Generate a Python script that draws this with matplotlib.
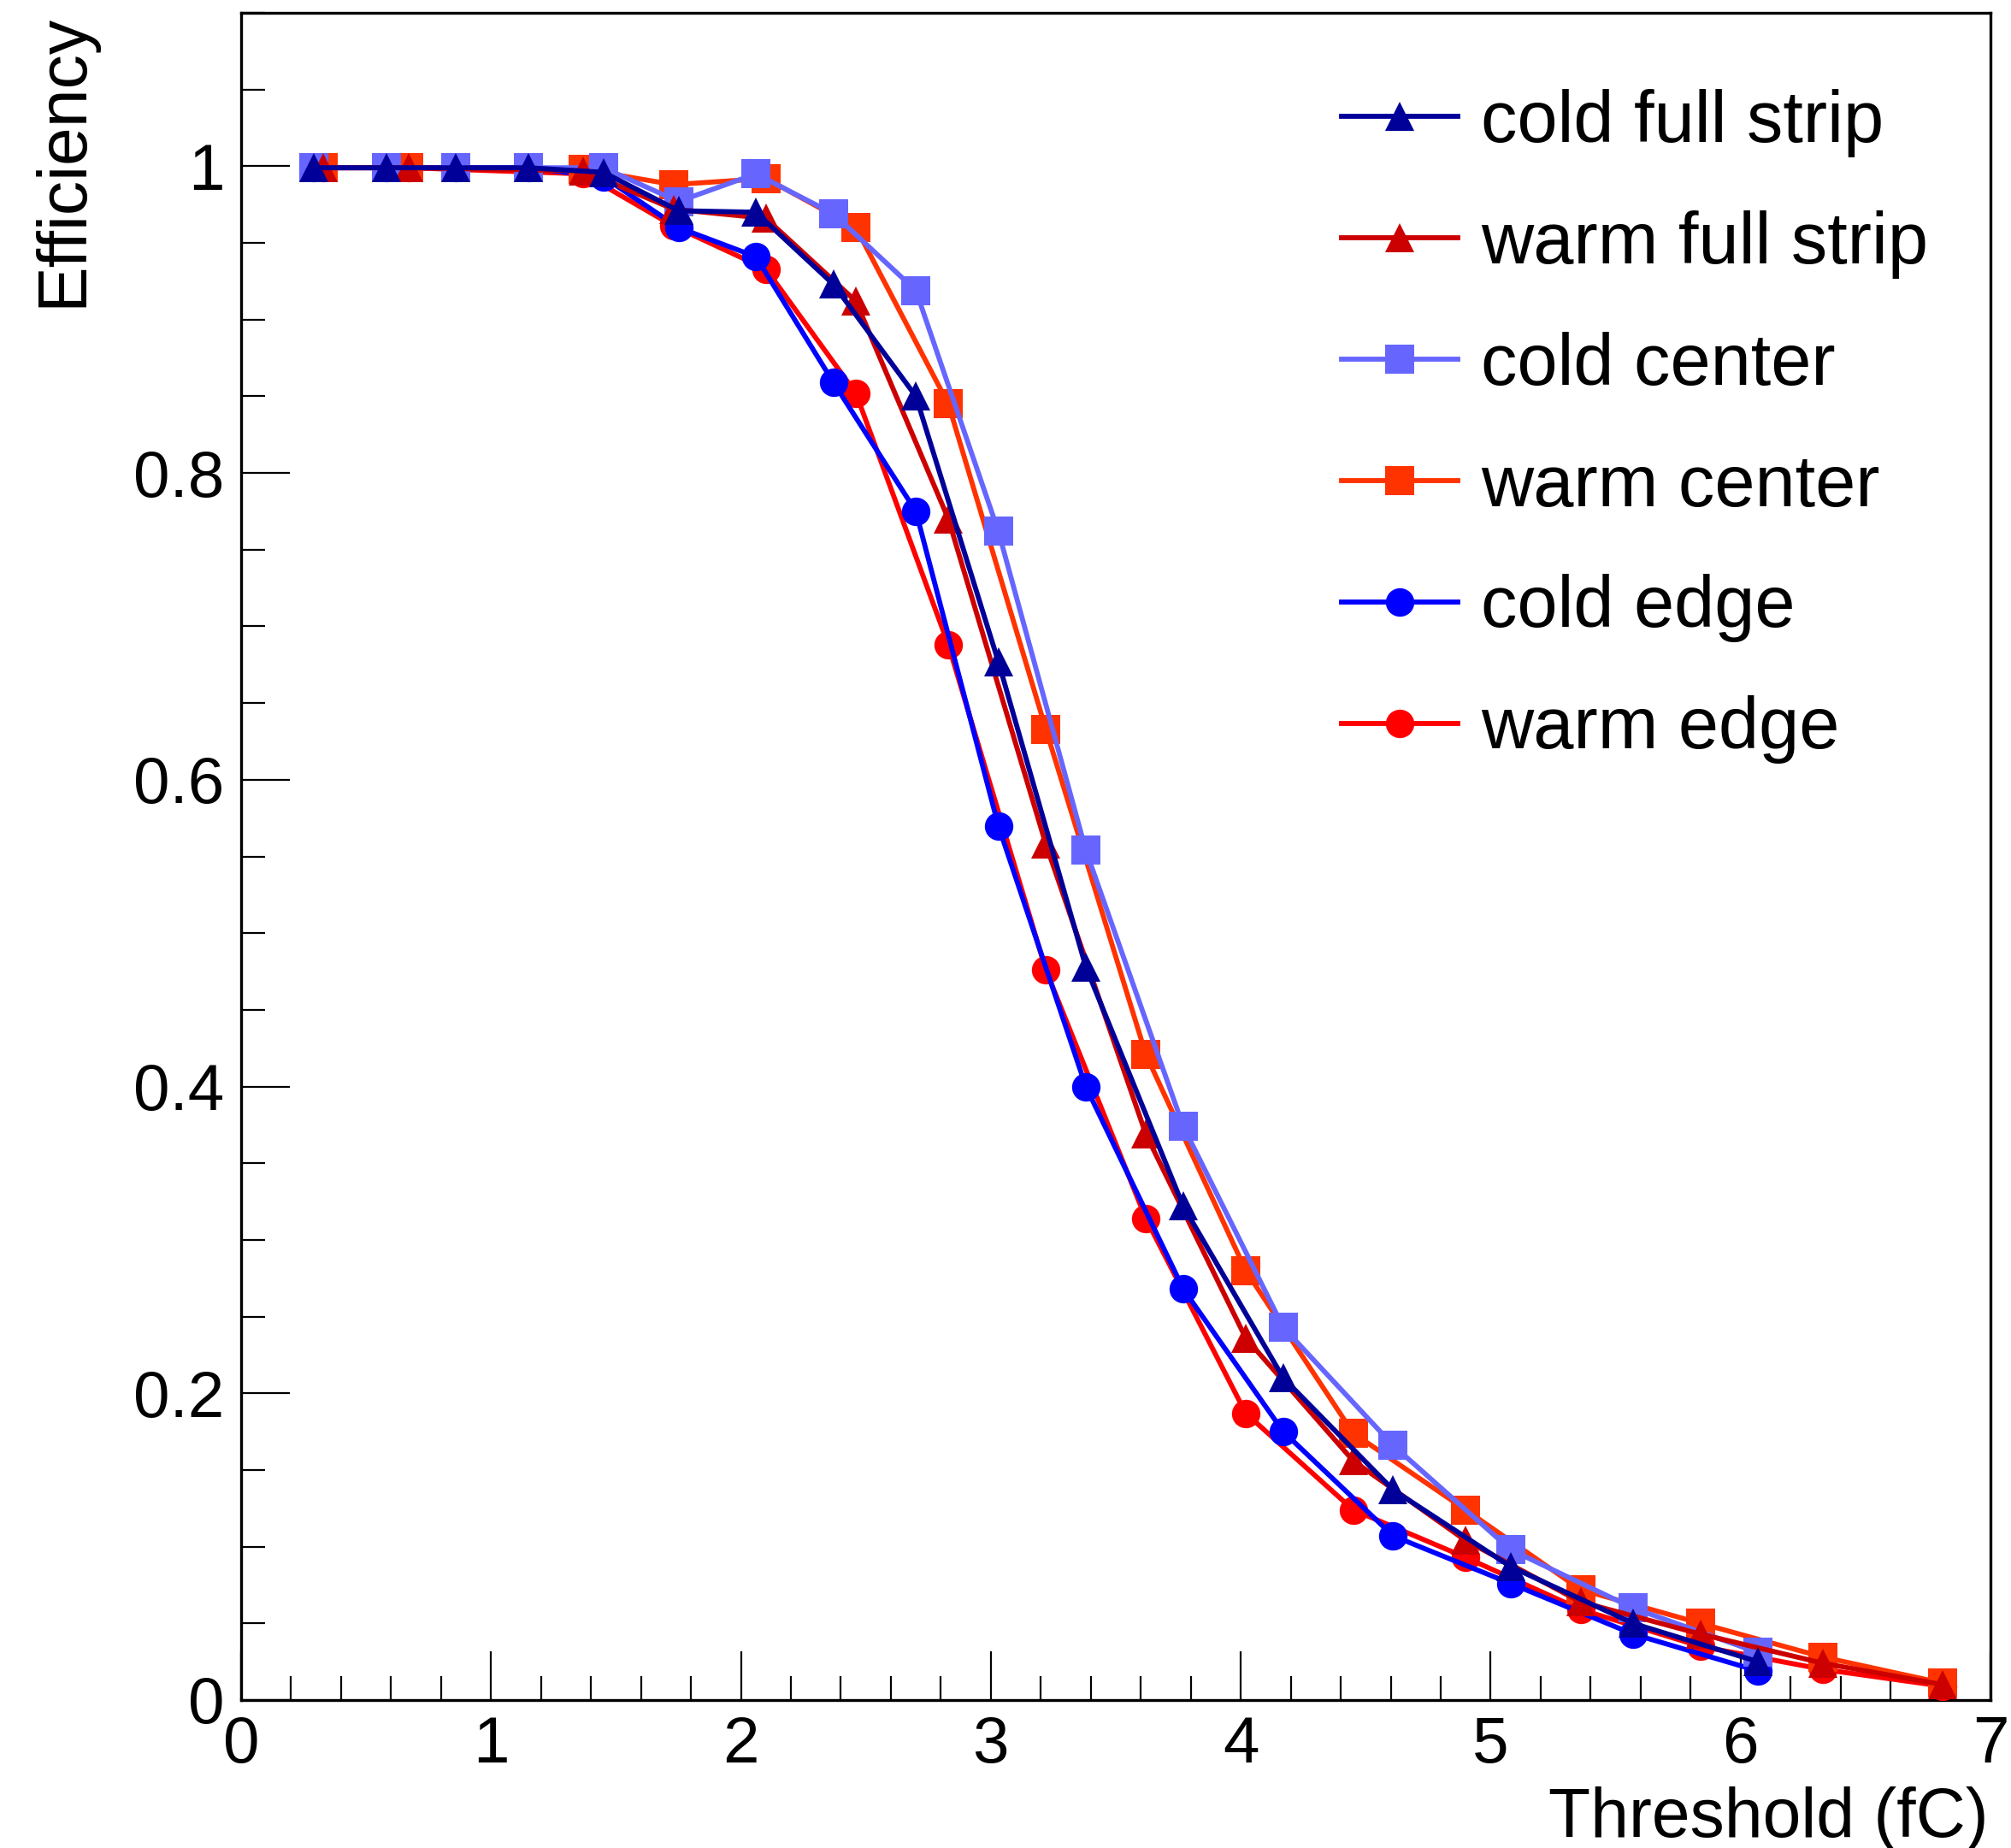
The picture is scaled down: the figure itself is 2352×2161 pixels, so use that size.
import matplotlib
matplotlib.use("Agg")
import matplotlib.pyplot as plt
from matplotlib.ticker import MultipleLocator, FixedLocator, FixedFormatter

plt.rcParams['font.family'] = ['Liberation Sans', 'DejaVu Sans']

# threshold points (fC)
cold_x = [0.29, 0.58, 0.86, 1.15, 1.45, 1.75, 2.06, 2.37, 2.70, 3.03, 3.38,
          3.77, 4.17, 4.61, 5.08, 5.57, 6.07]
warm_x = [0.33, 0.67, 1.37, 1.73, 2.10, 2.46, 2.83, 3.22, 3.62, 4.02, 4.45,
          4.90, 5.36, 5.84, 6.33, 6.81]

cold_full = [0.999, 0.999, 0.999, 0.999, 0.996, 0.971, 0.970, 0.923, 0.850,
             0.677, 0.478, 0.322, 0.210, 0.137, 0.087, 0.050, 0.025]
cold_center = [0.999, 0.999, 0.999, 0.999, 0.999, 0.977, 0.995, 0.969, 0.919,
               0.762, 0.554, 0.374, 0.243, 0.166, 0.098, 0.060, 0.031]
cold_edge = [0.999, 0.999, 0.999, 0.999, 0.993, 0.960, 0.941, 0.859, 0.775,
             0.570, 0.400, 0.268, 0.175, 0.107, 0.076, 0.043, 0.019]
warm_full = [0.999, 0.999, 0.997, 0.972, 0.966, 0.912, 0.770, 0.558, 0.369,
             0.236, 0.156, 0.104, 0.064, 0.043, 0.024, 0.010]
warm_center = [0.999, 0.999, 0.998, 0.988, 0.992, 0.960, 0.845, 0.633, 0.421,
               0.280, 0.174, 0.124, 0.072, 0.050, 0.028, 0.011]
warm_edge = [0.999, 0.999, 0.995, 0.961, 0.933, 0.852, 0.688, 0.476, 0.314,
             0.187, 0.124, 0.093, 0.059, 0.035, 0.020, 0.009]

x_ticks = [0, 1, 2, 3, 4, 5, 6, 7]
y_ticks = [0, 0.2, 0.4, 0.6, 0.8, 1.0]
y_tick_labels = ['0', '0.2', '0.4', '0.6', '0.8', '1']

# (label, x, y, colour, marker) in legend order
series = [
    ('cold full strip', cold_x, cold_full, '#000099', '^'),
    ('warm full strip', warm_x, warm_full, '#cc0000', '^'),
    ('cold center', cold_x, cold_center, '#6666ff', 's'),
    ('warm center', warm_x, warm_center, '#ff3300', 's'),
    ('cold edge', cold_x, cold_edge, '#0000ff', 'o'),
    ('warm edge', warm_x, warm_edge, '#ff0000', 'o'),
]

W, H = 2352, 2161
fig = plt.figure(figsize=(W / 100, H / 100), dpi=100)
ax = fig.add_axes([282 / W, 1 - 1988 / H, 2046 / W, 1973 / H])

n = len(series)
for i, (label, xs, ys, col, mk) in enumerate(series):
    ms = 25 if mk != 'o' else 24
    ax.plot(xs, ys, color=col, marker=mk, markersize=ms, lw=4.2,
            markeredgewidth=0, label=label, zorder=10 + n - i)

ax.set_xlim(0, 7)
ax.set_ylim(0, 1.1)
ax.xaxis.set_major_locator(FixedLocator(x_ticks))
ax.xaxis.set_minor_locator(MultipleLocator(0.2))
ax.yaxis.set_major_locator(FixedLocator(y_ticks))
ax.yaxis.set_major_formatter(FixedFormatter(y_tick_labels))
ax.yaxis.set_minor_locator(MultipleLocator(0.05))
ax.tick_params(which='both', direction='in', top=False, right=False,
               labelsize=55, width=1.6, colors='black')
ax.tick_params(which='major', length=41)
ax.tick_params(which='minor', length=20)
ax.tick_params(axis='y', pad=14)
ax.tick_params(axis='x', pad=13)
for s in ax.spines.values():
    s.set_linewidth(2.4)

fig.text(2326 / W, 13 / H, 'Threshold (fC)', ha='right', va='baseline',
         fontsize=58)
fig.text(36 / W, 1 - 16 / H, 'Efficiency', ha='left', va='top',
         rotation=90, fontsize=58)

leg = ax.legend(loc='upper left', bbox_to_anchor=(1569 / W, 1 - 104 / H),
                bbox_transform=fig.transFigure, frameon=False, fontsize=61,
                handlelength=1.6, handletextpad=0.32, labelspacing=0.73,
                borderpad=0, borderaxespad=0, markerscale=1.0)

fig.savefig('out.png', dpi=100)
